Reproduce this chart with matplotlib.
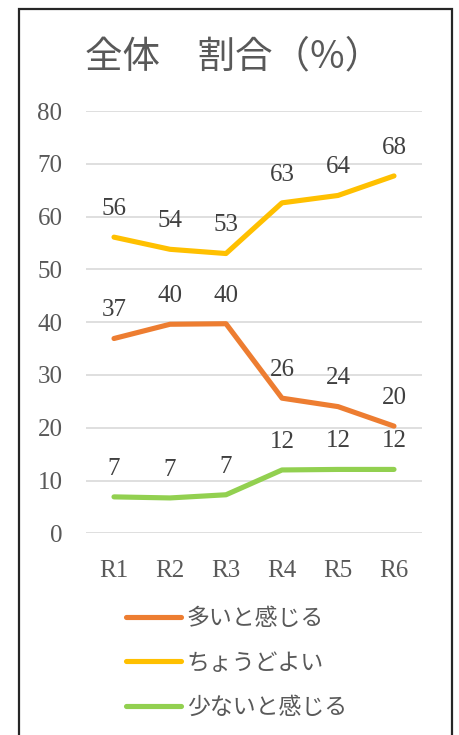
import matplotlib
matplotlib.use("Agg")
import matplotlib.pyplot as plt
from matplotlib.patches import Rectangle

# データ
rounds = ["R1", "R2", "R3", "R4", "R5", "R6"]
ooi = [36.9, 39.6, 39.7, 25.6, 24.0, 20.3]          # 多いと感じる
choudo = [56.1, 53.8, 53.0, 62.6, 64.0, 67.7]       # ちょうどよい
sukunai = [6.9, 6.7, 7.3, 12.0, 12.1, 12.1]         # 少ないと感じる
series_names = ["多いと感じる", "ちょうどよい", "少ないと感じる"]
series_colors = ["#ED7D31", "#FFC000", "#92D050"]

W, H = 459, 735
gray = "#595959"
jp = ["Noto Sans CJK JP", "DejaVu Sans"]
num = ["Liberation Serif", "DejaVu Serif"]

fig = plt.figure(figsize=(W / 100, H / 100), dpi=100)
fig.patch.set_facecolor("white")

# 外枠
fig.patches.append(Rectangle((18.5 / W, -0.05), (452 - 18.5) / W, 1.05 - 9 / H,
                             transform=fig.transFigure, fill=False,
                             edgecolor="#262626", linewidth=1.6))

left, right = 86 / W, 422 / W
bottom, top = 1 - 533.3 / H, 1 - 111 / H
ax = fig.add_axes([left, bottom, right - left, top - bottom])

x = list(range(len(rounds)))
for vals, name, col in zip([ooi, choudo, sukunai], series_names, series_colors):
    ax.plot(x, vals, color=col, lw=3.7, solid_capstyle="round",
            solid_joinstyle="round", label=name, zorder=3)
    for xi, v in zip(x, vals):
        ax.annotate(f"{v:.0f}", (xi, v), xytext=(0, 16), textcoords="offset points",
                    ha="center", va="baseline", fontsize=18, family=num,
                    color="#404040")

ax.set_xlim(-0.5, len(rounds) - 0.5)
ax.set_ylim(0, 80)
ax.set_yticks(range(0, 81, 10))
ax.set_xticks(x)
ax.set_xticklabels(rounds)
ax.grid(axis="y", color="#D9D9D9", lw=1.2, zorder=0)
ax.set_axisbelow(True)
for s in ax.spines.values():
    s.set_visible(False)
ax.tick_params(axis="both", length=0, labelcolor=gray, labelsize=18)
ax.tick_params(axis="y", pad=17)
ax.tick_params(axis="x", pad=19)
for lab in ax.get_xticklabels() + ax.get_yticklabels():
    lab.set_family(num)

fig.text(234 / W, 1 - 57 / H, "全体　割合（%）", ha="center", va="center",
         fontsize=27, family=jp, color=gray)

leg = ax.legend(loc="center left", bbox_to_anchor=(126 / W, 1 - 663 / H),
                bbox_transform=fig.transFigure, frameon=False, borderpad=0,
                borderaxespad=0, handlelength=2.4, handletextpad=0.25,
                labelspacing=0.95, prop={"family": jp, "size": 16.5})
for t in leg.get_texts():
    t.set_color(gray)

fig.savefig("out.png", dpi=100)
